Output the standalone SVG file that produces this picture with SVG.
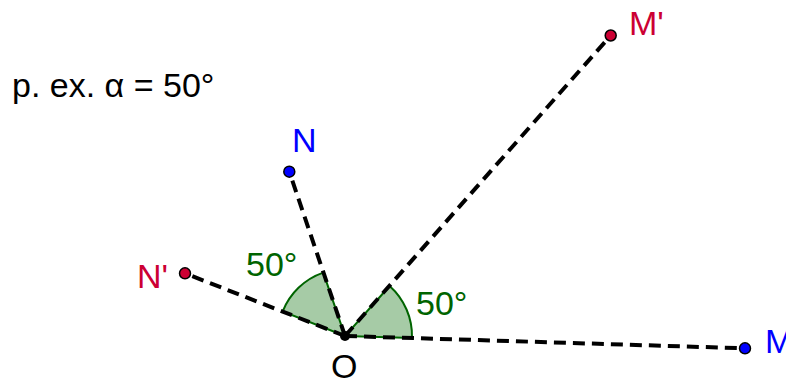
<svg xmlns="http://www.w3.org/2000/svg" width="786" height="381" viewBox="0 0 786 381">
<style>
.seg{stroke:#000;stroke-width:4;stroke-dasharray:12,7;fill:none}
.sector{fill:#a6cba6;stroke:#006400;stroke-width:2}
.ptb{fill:#0000ff;stroke:#000;stroke-width:1.5}
.ptr{fill:#cc0033;stroke:#000;stroke-width:1.5}
text{font-family:"Liberation Sans",Arial,sans-serif;font-size:34px}
.lb{fill:#0000ff}.lr{fill:#cc0033}.lg{fill:#006400}.lk{fill:#000}
</style>
<rect width="786" height="381" fill="#fff"/>
<g id="angles">
<path class="sector" d="M345,336 L412,338 A67,67 0 0 0 389.6,286 Z"/>
<path class="sector" d="M345,336 L323.3,272.6 A67,67 0 0 0 282.7,311.4 Z"/>
</g>
<g id="connectors">
<line class="seg" x1="345" y1="336" x2="745" y2="348.3"/>
<line class="seg" x1="345" y1="336" x2="610.7" y2="35.5"/>
<line class="seg" x1="345" y1="336" x2="289.3" y2="171.7"/>
<line class="seg" x1="345" y1="336" x2="185" y2="273.3"/>
</g>
<g id="O"><circle cx="345" cy="336" r="5" fill="#000"/><text class="lk" x="331" y="378">O</text></g>
<g id="M"><circle class="ptb" cx="745" cy="348.3" r="5.5"/><text class="lb" x="765" y="353">M</text></g>
<g id="Mp"><circle class="ptr" cx="610.7" cy="35.5" r="5.5"/><text class="lr" x="629" y="35">M'</text></g>
<g id="N"><circle class="ptb" cx="289.3" cy="171.7" r="5.5"/><text class="lb" x="292" y="152">N</text></g>
<g id="Np"><circle class="ptr" cx="185" cy="273.3" r="5.5"/><text class="lr" x="137" y="288">N'</text></g>
<g id="labels">
<text class="lg" x="246" y="276">50°</text>
<text class="lg" x="416" y="315">50°</text>
<text class="lk" x="12" y="97">p. ex. α = 50°</text>
</g>
</svg>
